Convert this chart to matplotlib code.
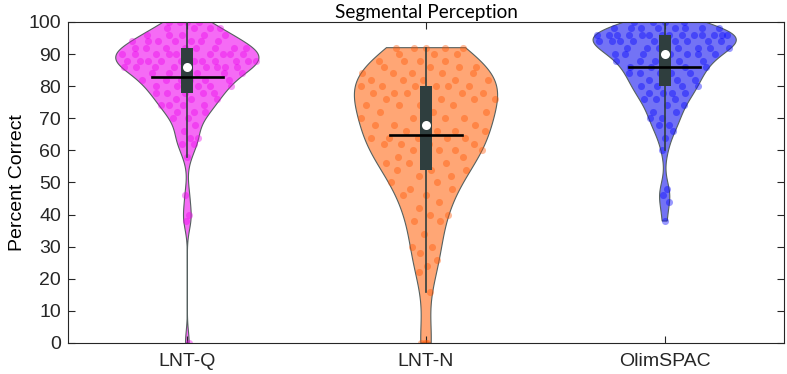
import numpy as np
import matplotlib.pyplot as plt

# Categories and scores (percent correct), as value levels + counts
groups = ['LNT-Q', 'LNT-N', 'OlimSPAC']

lntq_scores = [100, 98, 96, 94, 92, 90, 88, 86, 84, 82, 80, 78, 76, 74, 72, 70, 68, 66, 64, 62, 58, 46, 40, 38, 0]
lntq_counts = [4, 4, 5, 7, 8, 10, 11, 9, 5, 6, 5, 5, 3, 4, 3, 2, 1, 1, 2, 2, 1, 1, 1, 1, 1]

lntn_scores = [92, 90, 88, 86, 84, 82, 80, 78, 76, 74, 72, 70, 68, 66, 64, 62, 60, 58, 56, 54,
               52, 50, 48, 46, 44, 42, 40, 38, 34, 30, 28, 26, 24, 22, 16, 0]
lntn_counts = [5, 3, 4, 4, 5, 5, 6, 6, 4, 4, 3, 4, 4, 4, 5, 4, 4, 3, 3, 3,
               2, 2, 2, 2, 1, 1, 2, 2, 1, 2, 1, 1, 1, 1, 1, 3]

olim_scores = [100, 98, 96, 94, 92, 90, 88, 86, 84, 82, 80, 78, 76, 74, 72, 70, 68, 66, 64, 60, 48, 46, 44, 38]
olim_counts = [4, 8, 14, 10, 7, 7, 5, 5, 5, 4, 4, 4, 3, 2, 2, 2, 2, 1, 1, 1, 1, 1, 1, 1]

fill_colors = [(0.96, 0.42, 0.96), (1.0, 0.65, 0.46), (0.45, 0.45, 0.96)]
dot_colors = [(0.92, 0.0, 0.92), (1.0, 0.33, 0.0), (0.0, 0.0, 1.0)]

half_width = 0.3
box_width = 0.05
mean_width = 0.15
box_color = '#2f3e3e'
edge_color = '#55605f'


def ks_bandwidth(x):
    # same rule as MATLAB ksdensity
    sig = np.median(np.abs(x - np.median(x))) / 0.6745
    return sig * (4 / (3 * len(x))) ** 0.2


def kde(x, grid):
    bw = ks_bandwidth(x)
    z = (grid[:, None] - x[None, :]) / bw
    return np.exp(-0.5 * z ** 2).sum(axis=1)


def draw_violin(ax, pos, data, fill, dots):
    grid = np.linspace(data.min(), data.max(), 300)
    dens = kde(data, grid)
    dens = dens / dens.max() * half_width

    ax.fill(np.concatenate([pos + dens, pos - dens[::-1]]),
            np.concatenate([grid, grid[::-1]]),
            facecolor=fill, edgecolor=edge_color, linewidth=0.8, zorder=1)

    # deterministic jitter inside the violin outline
    idx = np.arange(len(data))
    jitter = 2 * ((0.5 + idx * 0.6180339887) % 1.0) - 1
    strength = np.interp(data, grid, dens)
    ax.scatter(pos + jitter * strength, data, s=26, color=dots, alpha=0.4,
               linewidths=0, zorder=2)

    q1, med, q3 = np.percentile(data, [25, 50, 75], method='hazen')
    iqr = q3 - q1
    lo = data[data >= q1 - 1.5 * iqr].min()
    hi = data[data <= q3 + 1.5 * iqr].max()
    ax.plot([pos, pos], [lo, hi], color=box_color, linewidth=1.2, zorder=3)
    ax.add_patch(plt.Rectangle((pos - box_width / 2, q1), box_width, q3 - q1,
                               facecolor=box_color, edgecolor='none', zorder=4))
    ax.plot([pos - mean_width, pos + mean_width], [data.mean(), data.mean()],
            color='black', linewidth=1.9, zorder=5)
    ax.plot(pos, med, 'o', color='white', markersize=6.5, markeredgewidth=0, zorder=6)


plt.rcParams['font.family'] = ['Liberation Sans', 'DejaVu Sans']

fig = plt.figure(figsize=(7.87, 3.74), dpi=100)
ax = fig.add_axes([0.0864, 0.0829, 0.9098, 0.8583])

all_data = [np.repeat(lntq_scores, lntq_counts).astype(float),
            np.repeat(lntn_scores, lntn_counts).astype(float),
            np.repeat(olim_scores, olim_counts).astype(float)]

for i, data in enumerate(all_data):
    draw_violin(ax, i + 1, data, fill_colors[i], dot_colors[i])

ax.set_xlim(0.5, 3.5)
ax.set_ylim(0, 100)
ax.set_xticks([1, 2, 3])
ax.set_xticklabels(groups)
ax.set_yticks(np.arange(0, 101, 10))
ax.tick_params(direction='in', top=True, right=True, length=5, width=0.8,
               labelsize=14, colors='#262626', pad=5)
ax.tick_params(axis='x', pad=7)
for sp in ax.spines.values():
    sp.set_color('#262626')
    sp.set_linewidth(0.8)

ax.set_ylabel('Percent Correct', fontsize=14, labelpad=2)
ax.set_title('Segmental Perception', fontsize=13.7, family=['Lato', 'DejaVu Sans'], pad=3)

fig.savefig('out.png', dpi=100)
